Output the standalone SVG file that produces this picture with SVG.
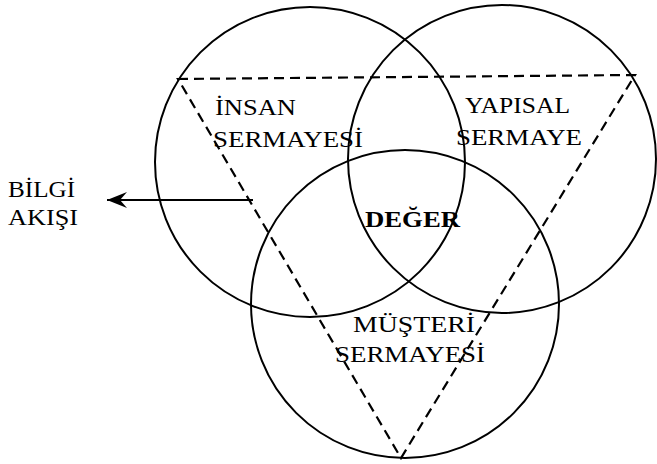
<svg xmlns="http://www.w3.org/2000/svg" width="657" height="464" viewBox="0 0 657 464">
<defs>
<style>
.c{fill:none;stroke:#000;stroke-width:2}
.d{fill:none;stroke:#000;stroke-width:2.2;stroke-dasharray:10 6}
.t{font-family:"Liberation Serif","DejaVu Serif",serif;font-size:24px;fill:#000}
.b{font-weight:bold}
</style>
<marker id="ah" markerWidth="24" markerHeight="18" refX="22" refY="9" orient="auto" markerUnits="userSpaceOnUse">
<path d="M22,9 L2,1 L9,9 L2,17 Z" fill="#000"/>
</marker>
</defs>
<rect width="657" height="464" fill="#fff"/>
<g id="insan"><circle class="c" cx="310" cy="162" r="155"/></g>
<g id="yapisal"><circle class="c" cx="502" cy="159" r="154"/></g>
<g id="musteri"><circle class="c" cx="405" cy="304" r="154"/></g>
<g id="connectors">
<polygon class="d" points="178,79 635,75 401,458"/>
<line x1="253" y1="200" x2="107" y2="200" stroke="#000" stroke-width="2" marker-end="url(#ah)"/>
</g>
<g id="labels">
<text class="t" x="215" y="115" textLength="81" lengthAdjust="spacingAndGlyphs">İNSAN</text>
<text class="t" x="213" y="147" textLength="150" lengthAdjust="spacingAndGlyphs">SERMAYESİ</text>
<text class="t" x="465" y="113" textLength="105" lengthAdjust="spacingAndGlyphs">YAPISAL</text>
<text class="t" x="456" y="145" textLength="126" lengthAdjust="spacingAndGlyphs">SERMAYE</text>
<text class="t b" x="365" y="227" textLength="95" lengthAdjust="spacingAndGlyphs">DEĞER</text>
<text class="t" x="353" y="332" textLength="122" lengthAdjust="spacingAndGlyphs">MÜŞTERİ</text>
<text class="t" x="335" y="362" textLength="150" lengthAdjust="spacingAndGlyphs">SERMAYESİ</text>
<text class="t" x="8" y="197" textLength="67" lengthAdjust="spacingAndGlyphs">BİLGİ</text>
<text class="t" x="8" y="225" textLength="70" lengthAdjust="spacingAndGlyphs">AKIŞI</text>
</g>
</svg>
